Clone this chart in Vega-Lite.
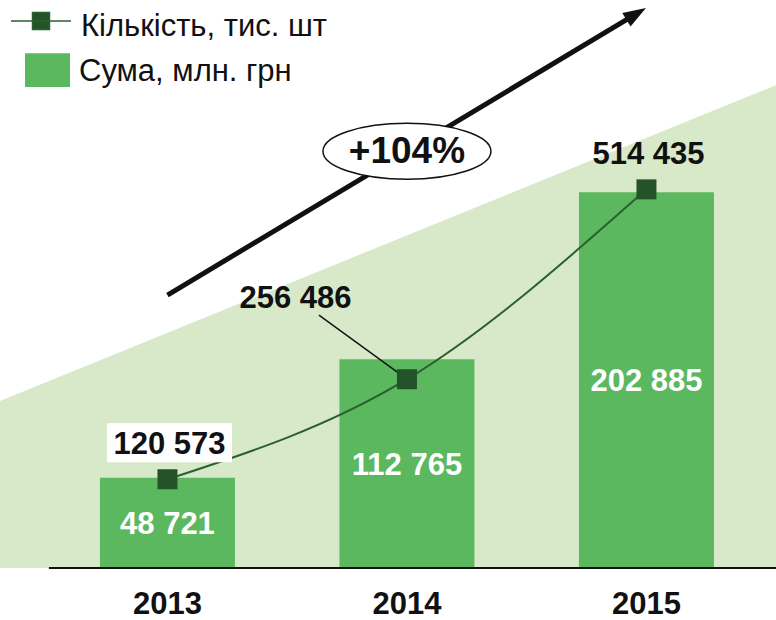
{
  "$schema": "https://vega.github.io/schema/vega-lite/v6.json",
  "width": 776,
  "height": 568,
  "autosize": {"type": "none"},
  "padding": {"left": 0, "top": 0, "right": 0, "bottom": 52},
  "background": "white",
  "config": {
    "view": {"stroke": null},
    "font": "Liberation Sans",
    "locale": {"number": {"decimal": ",", "thousands": " ", "grouping": [3], "currency": ["", ""]}}
  },
  "datasets": {
    "main": [
      {"year": "2013", "sum": 48721, "count": 120573},
      {"year": "2014", "sum": 112765, "count": 256486},
      {"year": "2015", "sum": 202885, "count": 514435}
    ],
    "bg": [{"u": 0, "v": 0.294}, {"u": 1, "v": 0.85}],
    "arrow": [{"from": "2013", "to": "2015", "y1": 147400, "y2": 299460}],
    "badge": [{"year": "2014", "pos": 225000, "label": "+104%"}],
    "base": [{"u1": 0.063, "u2": 1}]
  },
  "layer": [
    {
      "data": {"name": "bg"},
      "mark": {"type": "area", "color": "#d7e9c9", "opacity": 1},
      "encoding": {
        "x": {"field": "u", "type": "quantitative", "scale": {"domain": [0, 1], "nice": false, "zero": false}, "axis": null},
        "y": {"field": "v", "type": "quantitative", "scale": {"domain": [0, 1], "nice": false}, "axis": null}
      }
    },
    {
      "layer": [
        {
          "data": {"name": "main"},
          "mark": {"type": "bar", "color": "#5cb85f"},
          "encoding": {
            "x": {"field": "year", "type": "nominal", "scale": {"type": "band", "paddingInner": 0.4363, "paddingOuter": 0.3382, "align": 0.617},
              "axis": {"title": null, "domain": false, "ticks": false, "tickSize": 0, "grid": false, "labelPadding": 21, "labelFontSize": 31, "labelFontWeight": "bold", "labelColor": "#111111", "labelFont": "Liberation Sans", "labelAngle": 0}},
            "y": {"field": "sum", "type": "quantitative", "scale": {"domain": [0, 306700], "nice": false}, "axis": null},
            "color": {"datum": "Сума, млн. грн", "scale": {"range": ["#5cb85f"]},
              "legend": {"title": null, "orient": "none", "legendX": 25, "legendY": 47.5, "padding": 0, "symbolType": "M-1,-0.75H1V0.75H-1Z", "symbolSize": 2025, "symbolStrokeWidth": 0, "labelFontSize": 31, "labelFont": "Liberation Sans", "labelColor": "#111111", "labelOffset": 9, "labelLimit": 400,
                "encode": {"labels": {"update": {"dy": {"value": 2}}}}}}
          }
        },
        {
          "data": {"name": "arrow"},
          "mark": {"type": "rule", "strokeWidth": 5, "color": "#111111"},
          "encoding": {
            "x": {"field": "from", "type": "nominal"},
            "x2": {"field": "to", "bandPosition": 0.43},
            "y": {"field": "y1", "type": "quantitative", "scale": {"domain": [0, 306700], "nice": false}},
            "y2": {"field": "y2"}
          }
        },
        {
          "data": {"name": "arrow"},
          "mark": {"type": "point", "shape": "M0,-0.55L0.42,0.65L-0.42,0.65Z", "size": 1444, "angle": 59, "filled": true, "color": "#111111", "opacity": 1},
          "encoding": {
            "x": {"field": "to", "type": "nominal", "bandPosition": 0.43},
            "y": {"field": "y2", "type": "quantitative", "scale": {"domain": [0, 306700], "nice": false}}
          }
        },
        {
          "data": {"name": "badge"},
          "mark": {"type": "point", "shape": "M-1,0A1,0.333,0,1,1,1,0A1,0.333,0,1,1,-1,0Z", "size": 28224, "filled": true, "fill": "white", "stroke": "#111111", "strokeWidth": 1.5, "opacity": 1, "strokeOpacity": 1, "fillOpacity": 1},
          "encoding": {
            "x": {"field": "year", "type": "nominal"},
            "y": {"field": "pos", "type": "quantitative", "scale": {"domain": [0, 306700], "nice": false}}
          }
        },
        {
          "data": {"name": "badge"},
          "mark": {"type": "text", "fontSize": 37, "fontWeight": "bold", "color": "#111111", "baseline": "middle", "font": "Liberation Sans", "dy": 1},
          "encoding": {
            "x": {"field": "year", "type": "nominal"},
            "y": {"field": "pos", "type": "quantitative", "scale": {"domain": [0, 306700], "nice": false}},
            "text": {"field": "label", "type": "nominal"}
          }
        }
      ]
    },
    {
      "data": {"name": "main"},
      "mark": {"type": "text", "color": "white", "fontSize": 31, "fontWeight": "bold", "baseline": "middle", "font": "Liberation Sans", "dy": 2},
      "encoding": {
        "x": {"field": "year", "type": "nominal", "scale": {"type": "band", "paddingInner": 0.4363, "paddingOuter": 0.3382, "align": 0.617}, "axis": null},
        "y": {"field": "sum", "type": "quantitative", "scale": {"domain": [0, 613400], "nice": false}, "axis": null},
        "text": {"field": "sum", "type": "quantitative", "format": ","}
      }
    },
    {
      "data": {"name": "main"},
      "encoding": {
        "x": {"field": "year", "type": "nominal", "scale": {"type": "band", "paddingInner": 0.4363, "paddingOuter": 0.3382, "align": 0.617}, "axis": null},
        "y": {"field": "count", "type": "quantitative", "scale": {"domain": [0, 771700], "nice": false}, "axis": null}
      },
      "layer": [
        {
          "mark": {"type": "line", "interpolate": "monotone", "strokeWidth": 2},
          "encoding": {
            "stroke": {"datum": "Кількість, тис. шт", "scale": {"range": ["#2b5f30"]},
              "legend": {"title": null, "orient": "none", "legendX": 10, "legendY": -10, "padding": 0, "symbolType": "M-1,0H1M-0.283,-0.283H0.283V0.283H-0.283Z", "symbolSize": 3600, "symbolStrokeWidth": 1.5, "symbolFillColor": "#245229", "labelFontSize": 31, "labelFont": "Liberation Sans", "labelColor": "#111111", "labelOffset": 9, "labelLimit": 400,
                "encode": {"symbols": {"update": {"fill": {"value": "#245229"}, "opacity": {"value": 1}}}, "labels": {"update": {"dy": {"value": 5.5}}}}}}
          }
        },
        {
          "transform": [{"filter": "datum.year == '2014'"}],
          "mark": {"type": "rule", "color": "#111111", "strokeWidth": 1.5, "x2Offset": -88, "y2Offset": -64},
          "encoding": {"x2": {"field": "year"}, "y2": {"field": "count"}}
        },
        {
          "transform": [{"filter": "datum.year == '2013'"}],
          "mark": {"type": "point", "shape": "M-1,-0.312H1V0.312H-1Z", "size": 15625, "filled": true, "color": "white", "opacity": 1, "xOffset": 2, "yOffset": -36.5}
        },
        {
          "mark": {"type": "point", "shape": "square", "size": 400, "filled": true, "color": "#245229", "opacity": 1}
        },
        {
          "transform": [{"filter": "datum.year != '2014'"}],
          "mark": {"type": "text", "fontSize": 31, "fontWeight": "bold", "color": "#111111", "baseline": "alphabetic", "dx": 2, "dy": -25, "font": "Liberation Sans"},
          "encoding": {"text": {"field": "count", "type": "quantitative", "format": ","}}
        },
        {
          "transform": [{"filter": "datum.year == '2014'"}],
          "mark": {"type": "text", "fontSize": 31, "fontWeight": "bold", "color": "#111111", "baseline": "alphabetic", "dx": -111.5, "dy": -71, "font": "Liberation Sans"},
          "encoding": {"text": {"field": "count", "type": "quantitative", "format": ","}}
        }
      ]
    },
    {
      "data": {"name": "base"},
      "mark": {"type": "rule", "color": "#111111", "strokeWidth": 2},
      "encoding": {
        "x": {"field": "u1", "type": "quantitative", "scale": {"domain": [0, 1], "nice": false, "zero": false}, "axis": null},
        "x2": {"field": "u2"},
        "y": {"datum": 0, "type": "quantitative", "scale": {"domain": [0, 1], "nice": false}, "axis": null}
      }
    }
  ],
  "resolve": {"scale": {"x": "independent", "y": "independent"}}
}
